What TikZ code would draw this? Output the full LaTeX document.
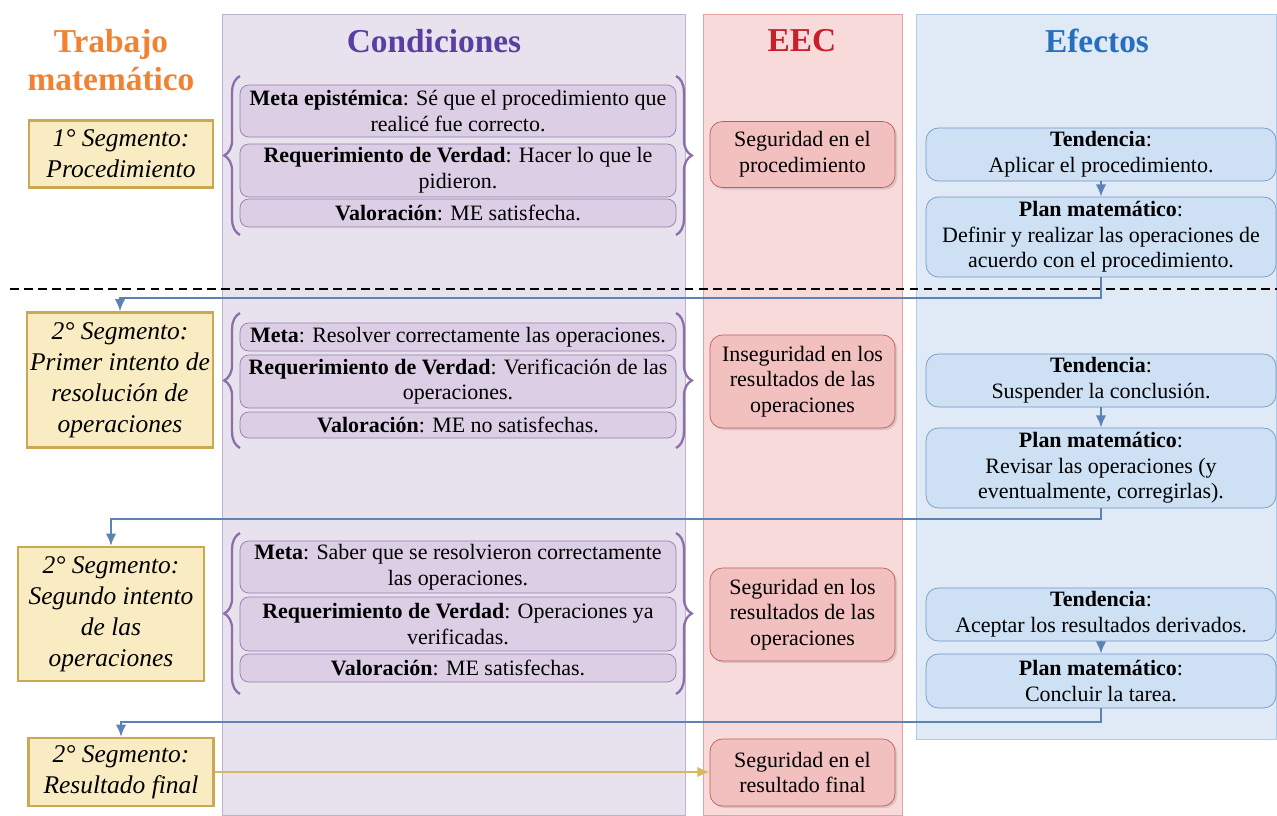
\documentclass[tikz,border=0pt]{standalone}
\usepackage{fontspec}
\setmainfont{Liberation Serif}
\usetikzlibrary{decorations.pathreplacing,shadows,arrows.meta}

\definecolor{segfill}{RGB}{250,236,194}
\definecolor{segline}{RGB}{205,168,82}
\definecolor{condcol}{RGB}{232,226,238}
\definecolor{condcolline}{RGB}{190,178,208}
\definecolor{condfill}{RGB}{220,207,229}
\definecolor{condline}{RGB}{150,122,176}
\definecolor{bracecol}{RGB}{140,110,170}
\definecolor{eeccol}{RGB}{248,218,218}
\definecolor{eeccolline}{RGB}{232,160,160}
\definecolor{eecfill}{RGB}{243,192,192}
\definecolor{eecline}{RGB}{192,92,92}
\definecolor{efecol}{RGB}{223,234,246}
\definecolor{efecolline}{RGB}{175,202,230}
\definecolor{efefill}{RGB}{205,224,244}
\definecolor{efeline}{RGB}{112,152,198}
\definecolor{flowcol}{RGB}{95,130,180}
\definecolor{goldcol}{RGB}{214,184,96}
\definecolor{orangehd}{RGB}{240,130,50}
\definecolor{purplehd}{RGB}{90,62,162}
\definecolor{redhd}{RGB}{200,32,42}
\definecolor{bluehd}{RGB}{38,110,190}

\newcommand{\bodyfont}{\fontsize{12.5}{14.6}\selectfont}

\begin{document}
\begin{tikzpicture}[x=0.02cm, y=-0.02cm, >={Latex[length=7pt,width=6pt]},
    head/.style={font=\fontsize{19}{21.6}\selectfont\bfseries, align=center},
    seg/.style={draw=segline, fill=segfill, line width=1.3pt, inner sep=0pt, align=center,
      font=\fontsize{14.5}{17.6}\selectfont\itshape},
    cond/.style={draw=condline, fill=condfill, rounded corners=5pt, inner sep=0pt, align=center,
      minimum width=8.72cm, font=\bodyfont},
    eec/.style={draw=eecline, fill=eecfill, rounded corners=7pt, inner sep=0pt, align=center,
      minimum width=3.7cm, font=\bodyfont,
      drop shadow={opacity=0.25, shadow xshift=1.2pt, shadow yshift=-1.2pt}},
    efe/.style={draw=efeline, fill=efefill, rounded corners=7pt, inner sep=0pt, align=center,
      minimum width=7.0cm, font=\bodyfont},
    brace/.style={decorate, decoration={brace, amplitude=9pt}, draw=bracecol, line width=1.3pt},
    flow/.style={->, draw=flowcol, line width=1.2pt},
    goldflow/.style={->, draw=goldcol, line width=1.2pt}]

    \useasboundingbox (0,0) rectangle (1277,815);

    \draw[fill=condcol, draw=condcolline] (222,14) rectangle (685,815);
    \draw[fill=eeccol, draw=eeccolline] (703,14) rectangle (902,815);
    \draw[fill=efecol, draw=efecolline] (916,14) rectangle (1276,739);

    \node[head, text=orangehd] (htrab) at (111,60) {Trabajo\\matemático};
    \node[head, text=purplehd] (hcond) at (434,41) {Condiciones};
    \node[head, text=redhd] (heec) at (802,41) {EEC};
    \node[head, text=bluehd] (hefe) at (1097,41) {Efectos};

    \draw[dash pattern=on 5pt off 3pt, line width=1pt] (10,289) -- (1277,289);

    \node[seg, minimum width=3.68cm, minimum height=1.34cm] (seg1) at (121,154) {1° Segmento:\\Procedimiento};
    \node[seg, minimum width=3.72cm, minimum height=2.7cm] (seg2) at (120,380) {2° Segmento:\\Primer intento de\\resolución de\\operaciones};
    \node[seg, minimum width=3.72cm, minimum height=2.68cm] (seg3) at (111,614) {2° Segmento:\\Segundo intento\\de las\\operaciones};
    \node[seg, minimum width=3.7cm, minimum height=1.36cm] (seg4) at (121,772) {2° Segmento:\\Resultado final};

    \node[cond, minimum height=1.04cm] (c1a) at (458,111) {\textbf{Meta epistémica}: Sé que el procedimiento que\\realicé fue correcto.};
    \node[cond, minimum height=1.06cm] (c1b) at (458,170.5) {\textbf{Requerimiento de Verdad}: Hacer lo que le\\pidieron.};
    \node[cond, minimum height=0.56cm] (c1c) at (458,213) {\textbf{Valoración}: ME satisfecha.};
    \draw[brace] (240,235) -- (240,76);
    \draw[brace] (676,76) -- (676,235);

    \node[cond, minimum height=0.56cm] (c2a) at (458,337) {\textbf{Meta}: Resolver correctamente las operaciones.};
    \node[cond, minimum height=1.06cm] (c2b) at (458,381.5) {\textbf{Requerimiento de Verdad}: Verificación de las\\operaciones.};
    \node[cond, minimum height=0.52cm] (c2c) at (458,425) {\textbf{Valoración}: ME no satisfechas.};
    \draw[brace] (240,448) -- (240,313);
    \draw[brace] (676,313) -- (676,448);

    \node[cond, minimum height=1.04cm] (c3a) at (458,567) {\textbf{Meta}: Saber que se resolvieron correctamente\\las operaciones.};
    \node[cond, minimum height=1.08cm] (c3b) at (458,624) {\textbf{Requerimiento de Verdad}: Operaciones ya\\verificadas.};
    \node[cond, minimum height=0.56cm] (c3c) at (458,668) {\textbf{Valoración}: ME satisfechas.};
    \draw[brace] (240,694) -- (240,533);
    \draw[brace] (676,533) -- (676,694);

    \node[eec, minimum height=1.32cm] (e1) at (802.5,154.5) {Seguridad en el\\procedimiento};
    \node[eec, minimum height=1.86cm] (e2) at (802.5,381.5) {Inseguridad en los\\resultados de las\\operaciones};
    \node[eec, minimum height=1.86cm] (e3) at (802.5,614.5) {Seguridad en los\\resultados de las\\operaciones};
    \node[eec, minimum height=1.34cm] (e4) at (802.5,772.5) {Seguridad en el\\resultado final};

    \node[efe, minimum height=1.06cm] (t1) at (1101,154.5) {\textbf{Tendencia}:\\Aplicar el procedimiento.};
    \node[efe, minimum height=1.6cm] (p1) at (1101,237) {\textbf{Plan matemático}:\\Definir y realizar las operaciones de\\acuerdo con el procedimiento.};
    \node[efe, minimum height=1.06cm] (t2) at (1101,380.5) {\textbf{Tendencia}:\\Suspender la conclusión.};
    \node[efe, minimum height=1.6cm] (p2) at (1101,468) {\textbf{Plan matemático}:\\Revisar las operaciones (y\\eventualmente, corregirlas).};
    \node[efe, minimum height=1.06cm] (t3) at (1101,614.5) {\textbf{Tendencia}:\\Aceptar los resultados derivados.};
    \node[efe, minimum height=1.08cm] (p3) at (1101,681) {\textbf{Plan matemático}:\\Concluir la tarea.};

    \draw[flow] (t1) -- (p1);
    \draw[flow] (t2) -- (p2);
    \draw[flow] (t3) -- (p3);

    \draw[flow] (p1.south) -- ++(0,21) -| (seg2.north);
    \draw[flow] (p2.south) -- ++(0,11) -| (seg3.north);
    \draw[flow] (p3.south) -- ++(0,14) -| (seg4.north);
    \draw[goldflow] (seg4.east) -- (seg4.east -| e4.west);
\end{tikzpicture}
\end{document}
